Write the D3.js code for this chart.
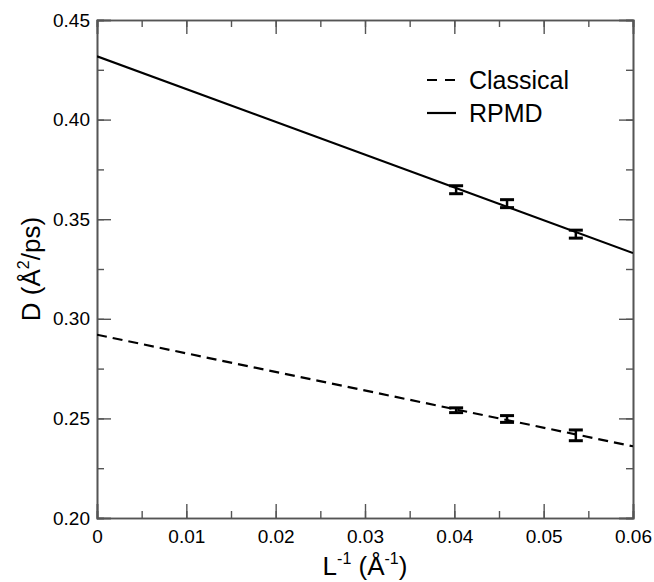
<!DOCTYPE html>
<html><head><meta charset="utf-8">
<script src="https://cdn.jsdelivr.net/npm/d3@7"></script>
<style>body{margin:0;background:#fff}svg{display:block}text{font-family:"Liberation Sans",Arial,sans-serif;fill:#000}</style>
</head><body>
<script>
// Data
const invL = [0.0402, 0.0459, 0.0536];
const classicalD = [0.2541, 0.2497, 0.2415];
const classicalErr = [0.0012, 0.0017, 0.0027];
const rpmdD = [0.3648, 0.3578, 0.3425];
const rpmdErr = [0.0020, 0.0020, 0.0020];
// Fit lines (endpoints at x=0 and x=0.06)
const fitX = [0, 0.06];
const classicalFit = [0.2920, 0.2360];
const rpmdFit = [0.4318, 0.3330];
const xTicks = [0, 0.01, 0.02, 0.03, 0.04, 0.05, 0.06];
const xTickLabels = ["0", "0.01", "0.02", "0.03", "0.04", "0.05", "0.06"];
const yTicks = [0.20, 0.25, 0.30, 0.35, 0.40, 0.45];
const yTickLabels = ["0.20", "0.25", "0.30", "0.35", "0.40", "0.45"];
const legendLabels = ["Classical", "RPMD"];

const W = 654, H = 582;
const m = {l: 97, r: 633, t: 20, b: 518};
const svg = d3.select("body").append("svg").attr("width", W).attr("height", H);
const x = d3.scaleLinear().domain([0, 0.06]).range([m.l, m.r]);
const y = d3.scaleLinear().domain([0.20, 0.45]).range([m.b, m.t]);

const frameCol = "#555";
const minorX = d3.range(0, 0.0601, 0.005);
const minorY = d3.range(0.20, 0.4501, 0.025);
function axisG(axis, tx, ty) {
  const g = svg.append("g").attr("transform", `translate(${tx},${ty})`).call(axis);
  g.select(".domain").attr("stroke", frameCol).attr("stroke-width", 1.6);
  g.selectAll(".tick line").attr("stroke", frameCol).attr("stroke-width", 1.4);
  return g;
}
// minor ticks
axisG(d3.axisBottom(x).tickValues(minorX).tickSize(-7).tickFormat(""), 0, m.b);
axisG(d3.axisTop(x).tickValues(minorX).tickSize(-7).tickFormat(""), 0, m.t);
axisG(d3.axisLeft(y).tickValues(minorY).tickSize(-7).tickFormat(""), m.l, 0);
axisG(d3.axisRight(y).tickValues(minorY).tickSize(-7).tickFormat(""), m.r, 0);
// major ticks
const xb = axisG(d3.axisBottom(x).tickValues(xTicks).tickSize(-14).tickPadding(12).tickFormat((d, i) => xTickLabels[i]), 0, m.b);
axisG(d3.axisTop(x).tickValues(xTicks).tickSize(-14).tickFormat(""), 0, m.t);
const yl = axisG(d3.axisLeft(y).tickValues(yTicks).tickSize(-14).tickPadding(7).tickFormat((d, i) => yTickLabels[i]), m.l, 0);
axisG(d3.axisRight(y).tickValues(yTicks).tickSize(-14).tickFormat(""), m.r, 0);
xb.selectAll(".tick text").attr("font-size", 19).attr("font-family", "Liberation Sans, Arial, sans-serif").attr("fill", "#000");
yl.selectAll(".tick text").attr("font-size", 19).attr("font-family", "Liberation Sans, Arial, sans-serif").attr("fill", "#000");

// fit lines
svg.append("clipPath").attr("id", "c").append("rect")
  .attr("x", m.l).attr("y", m.t).attr("width", m.r - m.l).attr("height", m.b - m.t);
const line = d3.line().x(d => x(d[0])).y(d => y(d[1]));
svg.append("path").datum(fitX.map((v, i) => [v, rpmdFit[i]])).attr("d", line)
  .attr("fill", "none").attr("stroke", "#000").attr("stroke-width", 2.2).attr("clip-path", "url(#c)");
svg.append("path").datum(fitX.map((v, i) => [v, classicalFit[i]])).attr("d", line)
  .attr("fill", "none").attr("stroke", "#000").attr("stroke-width", 2.2).attr("stroke-dasharray", "10,6").attr("clip-path", "url(#c)");

// error bars
function errBars(vals, errs) {
  const g = svg.append("g").attr("stroke", "#000").attr("stroke-width", 2.5);
  invL.forEach((xv, i) => {
    const cx = x(xv), y1 = y(vals[i] + errs[i]), y2 = y(vals[i] - errs[i]);
    g.append("line").attr("x1", cx).attr("x2", cx).attr("y1", y1).attr("y2", y2);
    g.append("line").attr("x1", cx - 7).attr("x2", cx + 7).attr("y1", y1).attr("y2", y1).attr("stroke-width", 3);
    g.append("line").attr("x1", cx - 7).attr("x2", cx + 7).attr("y1", y2).attr("y2", y2).attr("stroke-width", 3);
  });
}
errBars(rpmdD, rpmdErr);
errBars(classicalD, classicalErr);

// legend
const lg = svg.append("g");
lg.append("line").attr("x1", 427).attr("x2", 456).attr("y1", 80).attr("y2", 80)
  .attr("stroke", "#000").attr("stroke-width", 2.2).attr("stroke-dasharray", "10,8");
lg.append("line").attr("x1", 427).attr("x2", 456).attr("y1", 113).attr("y2", 113)
  .attr("stroke", "#000").attr("stroke-width", 2.2);
lg.append("text").attr("x", 469).attr("y", 89).attr("font-size", 25).text(legendLabels[0]);
lg.append("text").attr("x", 469).attr("y", 122).attr("font-size", 25).text(legendLabels[1]);

// axis titles
const xt = svg.append("text").attr("x", (m.l + m.r) / 2).attr("y", 575).attr("text-anchor", "middle").attr("font-size", 26);
xt.append("tspan").text("L");
xt.append("tspan").attr("dy", -11).attr("font-size", 16).text("-1");
xt.append("tspan").attr("dy", 11).text(" (Å");
xt.append("tspan").attr("dy", -11).attr("font-size", 16).text("-1");
xt.append("tspan").attr("dy", 11).text(")");

const yt = svg.append("text").attr("transform", `translate(40,${(m.t + m.b) / 2}) rotate(-90)`).attr("text-anchor", "middle").attr("font-size", 26);
yt.append("tspan").text("D (Å");
yt.append("tspan").attr("dy", -11).attr("font-size", 16).text("2");
yt.append("tspan").attr("dy", 11).text("/ps)");
</script>
</body></html>
